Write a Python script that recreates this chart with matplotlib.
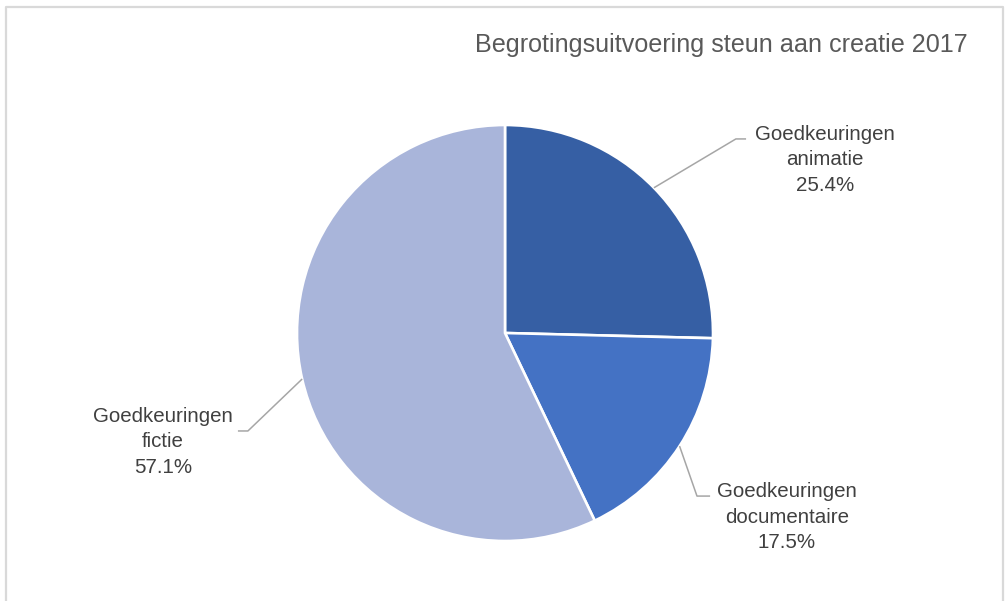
import matplotlib
matplotlib.use("Agg")
import matplotlib.pyplot as plt
import numpy as np
from matplotlib.lines import Line2D

plt.rcParams["font.family"] = ["Liberation Sans", "DejaVu Sans"]

labels = ["Goedkeuringen\nanimatie", "Goedkeuringen\ndocumentaire", "Goedkeuringen\nfictie"]
shares = [25.4, 17.5, 57.1]
colors = ["#365FA4", "#4472C4", "#A9B5DA"]
title = "Begrotingsuitvoering steun aan creatie 2017"

# label layout (data units, pie radius = 1): elbow point, end of horizontal, text centre
elbows = [(1.11, 0.933), (0.923, -0.784), (-1.236, -0.471)]
ends = [(1.159, 0.933), (0.986, -0.784), (-1.284, -0.471)]
text_pos = [(1.538, 0.832), (1.356, -0.885), (-1.644, -0.524)]

W, H = 1006, 601
fig = plt.figure(figsize=(W / 100, H / 100), dpi=100)
cx, cy, r = 505, 333, 208
ax = fig.add_axes([(cx - r) / W, (H - cy - r) / H, 2 * r / W, 2 * r / H])

wedges, _ = ax.pie(shares, colors=colors, startangle=90, counterclock=False,
                   radius=1, wedgeprops=dict(edgecolor="white", linewidth=1.9))
ax.set_xlim(-1, 1)
ax.set_ylim(-1, 1)
ax.set_aspect("equal")
ax.axis("off")

for w, lab, val, el, en, tp in zip(wedges, labels, shares, elbows, ends, text_pos):
    ang = np.deg2rad((w.theta1 + w.theta2) / 2)
    x0, y0 = np.cos(ang), np.sin(ang)
    ax.plot([x0, el[0], en[0]], [y0, el[1], en[1]], color="#A6A6A6", lw=1.1,
            clip_on=False, solid_capstyle="butt")
    ax.text(tp[0], tp[1], f"{lab}\n{val:.1f}%", ha="center", va="center",
            fontsize=14.8, color="#404040", linespacing=1.42)

fig.text(968 / W, 1 - 45 / H, title, ha="right", va="center", fontsize=18.1,
         color="#595959")

# chart area border (left, top, right)
bc = "#D9D9D9"
x1, x2, yt = 6 / W, 1003 / W, 1 - 7 / H
fig.add_artist(Line2D([x1, x1, x2, x2], [0, yt, yt, 0], transform=fig.transFigure,
                      color=bc, lw=1.6))

fig.savefig("out.png", dpi=100, facecolor="white")
